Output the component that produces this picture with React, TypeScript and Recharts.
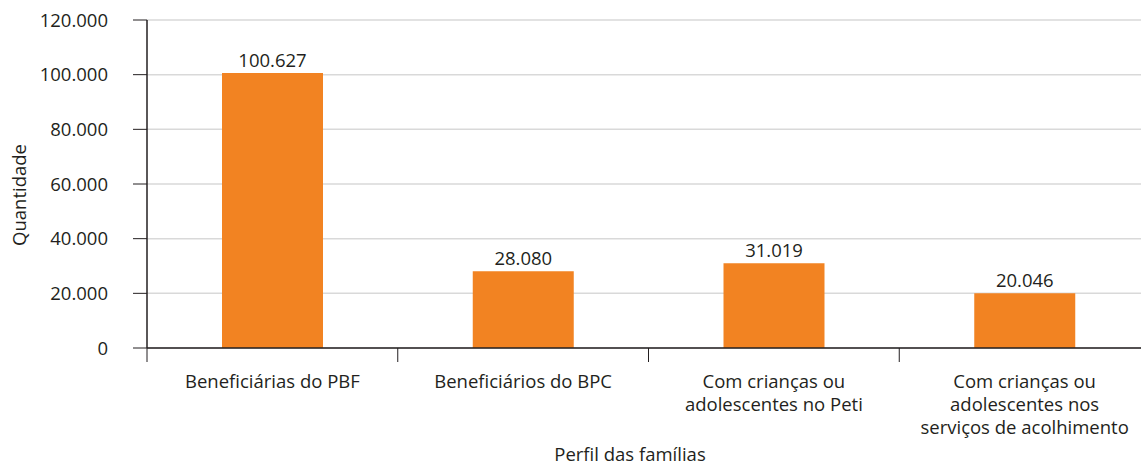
import React from 'react';
import { BarChart, Bar, XAxis, YAxis, CartesianGrid, LabelList } from 'recharts';

const categories = [
  'Beneficiárias do PBF',
  'Beneficiários do BPC',
  'Com crianças ou\nadolescentes no Peti',
  'Com crianças ou\nadolescentes nos\nserviços de acolhimento',
];
const quantidades = [100627, 28080, 31019, 20046];
const yTicks = [0, 20000, 40000, 60000, 80000, 100000, 120000];

const data = categories.map((name, i) => ({ name, value: quantidades[i] }));

const TEXT = '#231f20';
const FONT = '"Open Sans", sans-serif';
const FS = 18.5;

const fmt = (v: number) => String(v).replace(/\B(?=(\d{3})+(?!\d))/g, '.');

const CategoryTick = (props: any) => {
  const { x, y, payload, width } = props;
  const half = payload.offset ?? width / categories.length / 2;
  const lines = String(payload.value).split('\n');
  return (
    <g>
      <line x1={x - half} x2={x - half} y1={y - 16} y2={y - 2} stroke={TEXT} strokeWidth={1} />
      <text x={x} y={y} textAnchor="middle" fill={TEXT} fontSize={FS} fontFamily={FONT}>
        {lines.map((l, i) => (
          <tspan key={i} x={x} dy={i === 0 ? 24 : 23}>{l}</tspan>
        ))}
      </text>
    </g>
  );
};

export default function App() {
  return (
    <div style={{ position: 'absolute', left: 0, top: 0, width: 1141, height: 466, overflow: 'hidden', background: '#fff' }}>
      <BarChart
        width={1150}
        height={466}
        data={data}
        margin={{ top: 20, right: 0, left: 0, bottom: 0 }}
        style={{ fontFamily: FONT }}
      >
        <CartesianGrid horizontal vertical={false} stroke="#d9d9d9" strokeWidth={1.5} />
        <XAxis
          dataKey="name"
          height={118}
          interval={0}
          tickLine={false}
          tickSize={14}
          tickMargin={2}
          axisLine={{ stroke: TEXT, strokeWidth: 1.5 }}
          tick={<CategoryTick />}
          label={{
            content: () => (
              <text x={630} y={461} textAnchor="middle" fill={TEXT} fontSize={FS} fontFamily={FONT}>
                Perfil das famílias
              </text>
            ),
          }}
        />
        <YAxis
          width={147}
          domain={[0, 120000]}
          ticks={yTicks}
          tickFormatter={fmt}
          tickSize={14}
          tickMargin={25}
          tickLine={{ stroke: TEXT }}
          axisLine={{ stroke: TEXT, strokeWidth: 1.5 }}
          tick={{ fill: TEXT, fontSize: FS, fontFamily: FONT }}
          label={{
            content: () => (
              <text
                x={18}
                y={195}
                transform="rotate(-90, 18, 195)"
                textAnchor="middle"
                dominantBaseline="central"
                fill={TEXT}
                fontSize={FS}
                fontFamily={FONT}
              >
                Quantidade
              </text>
            ),
          }}
        />
        <Bar dataKey="value" fill="#f28322" barSize={101} isAnimationActive={false}>
          <LabelList
            dataKey="value"
            position="top"
            offset={6}
            formatter={(v: any) => fmt(v)}
            fill={TEXT}
            fontSize={FS}
            fontFamily={FONT}
          />
        </Bar>
      </BarChart>
    </div>
  );
}
